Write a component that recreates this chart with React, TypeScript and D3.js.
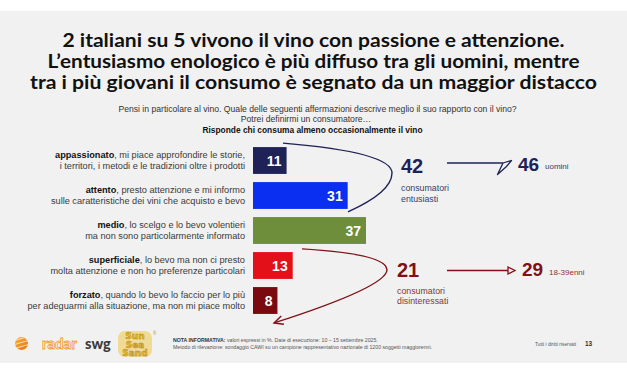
import React from "react";
import * as d3 from "d3";

const titleLines = [
  "2 italiani su 5 vivono il vino con passione e attenzione.",
  "L’entusiasmo enologico è più diffuso tra gli uomini, mentre",
  "tra i più giovani il consumo è segnato da un maggior distacco",
];
const titleWidths = [502, 532, 567];
const subtitleLines = [
  "Pensi in particolare al vino. Quale delle seguenti affermazioni descrive meglio il suo rapporto con il vino?",
  "Potrei definirmi un consumatore…",
];
const baseNote = "Risponde chi consuma almeno occasionalmente il vino";

const categories = ["appassionato", "attento", "medio", "superficiale", "forzato"];
const descLine1 = [
  ", mi piace approfondire le storie,",
  ", presto attenzione e mi informo",
  ", lo scelgo e lo bevo volentieri",
  ", lo bevo ma non ci presto",
  ", quando lo bevo lo faccio per lo più",
];
const descLine2 = [
  "i territori, i metodi e le tradizioni oltre i prodotti",
  "sulle caratteristiche dei vini che acquisto e bevo",
  "ma non sono particolarmente informato",
  "molta attenzione e non ho preferenze particolari",
  "per adeguarmi alla situazione, ma non mi piace molto",
];
const values = [11, 31, 37, 13, 8];
const barColors = ["#1e2257", "#0a2ff0", "#6e8e3c", "#e3101a", "#7a0a10"];

const groupTotals = [42, 21];
const groupLabels = [
  ["consumatori", "entusiasti"],
  ["consumatori", "disinteressati"],
];
const highlightValues = [46, 29];
const highlightLabels = ["uomini", "18-39enni"];

const noteLine1Bold = "NOTA INFORMATIVA:";
const noteLine1 = " valori espressi in %. Date di esecuzione: 10 – 15 settembre 2025.";
const noteLine2 =
  "Metodo di rilevazione: sondaggio CAWI su un campione rappresentativo nazionale di 1200 soggetti maggiorenni.";
const rights = "Tutti i diritti riservati";
const pageNum = "13";

const W = 627;
const H = 376;
const NAVY = "#1e2257";
const DARKRED = "#7f1016";
const SANS = "'Liberation Sans', Arial, sans-serif";

export default function App() {
  const y = d3
    .scaleBand<string>()
    .domain(categories)
    .range([143, 318])
    .paddingInner(0.233)
    .paddingOuter(0.1165);
  const x = d3.scaleLinear().domain([0, 37]).range([253, 366]);
  const bw = y.bandwidth();
  const cy = (i: number) => (y(categories[i]) as number) + bw / 2;

  // annotation curves anchored to bars
  const topA = y(categories[0]) as number;
  const upper = `M283,${topA - 4} Q392,${topA + 5} 392,${topA + 26} Q392,${topA + 45} 348,${(y(categories[1]) as number) + bw + 3}`;
  const lowStart = (y(categories[2]) as number) + bw + 5;
  const lowEnd = (y(categories[4]) as number) + bw + 9;
  const lower = `M302,${lowStart} Q387,${lowStart + 5} 387,${lowStart + 21} Q386,${lowStart + 38} 274,${lowEnd}`;
  const dx = 274 - 386;
  const dy = lowEnd - (lowStart + 38);
  const ang = Math.atan2(dy, dx);
  const aL = 10;
  const w1 = [274 - aL * Math.cos(ang - 0.45), lowEnd - aL * Math.sin(ang - 0.45)];
  const w2 = [274 - aL * Math.cos(ang + 0.45), lowEnd - aL * Math.sin(ang + 0.45)];

  const y42 = cy(0) + 12.5;
  const y21 = cy(3) + 11;

  return (
    <svg
      width={W}
      height={H}
      viewBox={`0 0 ${W} ${H}`}
      style={{ position: "absolute", left: 0, top: 0 }}
      xmlns="http://www.w3.org/2000/svg"
    >
      <rect x={0} y={0} width={W} height={H} fill="#ffffff" />
      <rect x={0} y={11} width={W} height={352} fill="#f1f1f1" />

      {/* Title */}
      <g fontFamily="Lato, 'Open Sans', sans-serif" fontWeight={700} fontSize={19} fill="#111" textAnchor="middle">
        {titleLines.map((t, i) => (
          <text key={i} x={313.5} y={47 + i * 21} textLength={titleWidths[i]} lengthAdjust="spacingAndGlyphs">
            {t}
          </text>
        ))}
      </g>

      {/* Subtitle */}
      <g fontFamily={SANS} fontSize={8.65} fill="#333" textAnchor="middle">
        <text x={317.5} y={112}>{subtitleLines[0]}</text>
        <text x={306} y={122}>{subtitleLines[1]}</text>
        <text x={312.5} y={132.5} fontWeight={700} fontSize={8.4} fill="#111">{baseNote}</text>
      </g>

      {/* Category labels */}
      <g fontFamily={SANS} fontSize={9.2} fill="#3a3a3a" textAnchor="end">
        {categories.map((c, i) => (
          <g key={c}>
            <text x={245} y={cy(i) - 2.5}>
              <tspan fontWeight={700} fill="#111">{c}</tspan>
              <tspan>{descLine1[i]}</tspan>
            </text>
            <text x={245} y={cy(i) + 8}>{descLine2[i]}</text>
          </g>
        ))}
      </g>

      {/* Bars */}
      {categories.map((c, i) => (
        <g key={c}>
          <rect x={x(0)} y={y(c)} width={x(values[i]) - x(0)} height={bw} fill={barColors[i]} />
          <text
            x={x(values[i]) - 5}
            y={cy(i) + 5}
            fontFamily={SANS}
            fontWeight={700}
            fontSize={14}
            fill="#fff"
            textAnchor="end"
          >
            {values[i]}
          </text>
        </g>
      ))}

      {/* Upper bracket */}
      <path d={upper} fill="none" stroke={NAVY} strokeWidth={1.4} />
      <text x={401} y={y42} fontFamily={SANS} fontWeight={700} fontSize={20} fill={NAVY}>
        {groupTotals[0]}
      </text>
      {groupLabels[0].map((t, i) => (
        <text key={t} x={401} y={y42 + 18 + i * 10.5} fontFamily={SANS} fontSize={8.8} fill="#34406e">
          {t}
        </text>
      ))}
      <line x1={447} y1={y42 - 10} x2={503} y2={y42 - 10} stroke={NAVY} strokeWidth={1.4} />
      <path
        d={`M503,${y42 - 10} L511.5,${y42 - 12.5} L506.5,${y42 - 6.5} L497.5,${y42 + 1.5} Z`}
        fill="none"
        stroke={NAVY}
        strokeWidth={1.3}
        strokeLinejoin="round"
      />
      <text x={518} y={y42 - 2} fontFamily={SANS} fontWeight={700} fontSize={19} fill={NAVY}>
        {highlightValues[0]}
      </text>
      <text x={545} y={y42 - 4} fontFamily={SANS} fontSize={8} fill="#34406e">
        {highlightLabels[0]}
      </text>

      {/* Lower bracket */}
      <path d={lower} fill="none" stroke={DARKRED} strokeWidth={1.4} />
      <path
        d={`M${w1[0]},${w1[1]} L274,${lowEnd} L${w2[0]},${w2[1]}`}
        fill="none"
        stroke={DARKRED}
        strokeWidth={1.4}
      />
      <text x={397} y={y21} fontFamily={SANS} fontWeight={700} fontSize={20} fill={DARKRED}>
        {groupTotals[1]}
      </text>
      {groupLabels[1].map((t, i) => (
        <text key={t} x={397} y={y21 + 17 + i * 10.5} fontFamily={SANS} fontSize={8.8} fill="#8a3338">
          {t}
        </text>
      ))}
      <line x1={447} y1={y21 - 6} x2={508} y2={y21 - 6} stroke={DARKRED} strokeWidth={1.4} />
      <path
        d={`M508,${y21 - 9.5} L515,${y21 - 6} L508,${y21 - 2.5} Z`}
        fill="#f1f1f1"
        stroke={DARKRED}
        strokeWidth={1.3}
      />
      <text x={522} y={y21 - 1} fontFamily={SANS} fontWeight={700} fontSize={19} fill={DARKRED}>
        {highlightValues[1]}
      </text>
      <text x={549} y={y21 - 2} fontFamily={SANS} fontSize={8} fill="#8a3338">
        {highlightLabels[1]}
      </text>

      {/* Footer: radar swg logo */}
      <defs>
        <linearGradient id="orb" x1="0" y1="0" x2="1" y2="1">
          <stop offset="0" stopColor="#fbb03b" />
          <stop offset="1" stopColor="#e8700a" />
        </linearGradient>
        <clipPath id="orbClip">
          <circle cx={21.5} cy={343.5} r={6.5} />
        </clipPath>
      </defs>
      <circle cx={21.5} cy={343.5} r={6.5} fill="url(#orb)" />
      <g clipPath="url(#orbClip)" stroke="#f1f1f1" strokeWidth={0.8}>
        <line x1={13} y1={341} x2={30} y2={336} />
        <line x1={13} y1={345} x2={30} y2={340} />
        <line x1={13} y1={349} x2={30} y2={344} />
      </g>
      <text x={42} y={348.5} fontFamily="Lato, sans-serif" fontWeight={700} fontSize={15} fill="#fff" stroke="#f0a030" strokeWidth={0.9}>
        radar
      </text>
      <text x={85} y={348.5} fontFamily="Lato, sans-serif" fontWeight={900} fontSize={14.5} fill="#3c3c3c">
        swg
      </text>

      {/* Sun Sea Sand logo */}
      <g fontFamily="'DejaVu Sans', sans-serif" fontWeight={700} fontSize={9} fill="#e9bb2a" stroke="#a8801a" strokeWidth={0.4} textAnchor="middle">
        <rect x={118} y={331} width={34} height={26} rx={7} fill="#edc64a" stroke="none" opacity={0.55} />
        <text x={135} y={339}>Sun</text>
        <text x={135} y={347.5}>Sea</text>
        <text x={135} y={356}>Sand</text>
      </g>
      <text x={153} y={335} fontFamily={SANS} fontSize={4.5} fill="#b08a20">®</text>

      {/* Notes */}
      <g fontFamily={SANS} fontSize={5.2} fill="#555">
        <text x={173} y={342}>
          <tspan fontWeight={700} fill="#333">{noteLine1Bold}</tspan>
          <tspan>{noteLine1}</tspan>
        </text>
        <text x={173} y={349}>{noteLine2}</text>
      </g>
      <text x={535} y={346} fontFamily={SANS} fontSize={4.8} fill="#555">{rights}</text>
      <text x={585} y={346} fontFamily={SANS} fontWeight={700} fontSize={6.5} fill="#333">{pageNum}</text>
    </svg>
  );
}
